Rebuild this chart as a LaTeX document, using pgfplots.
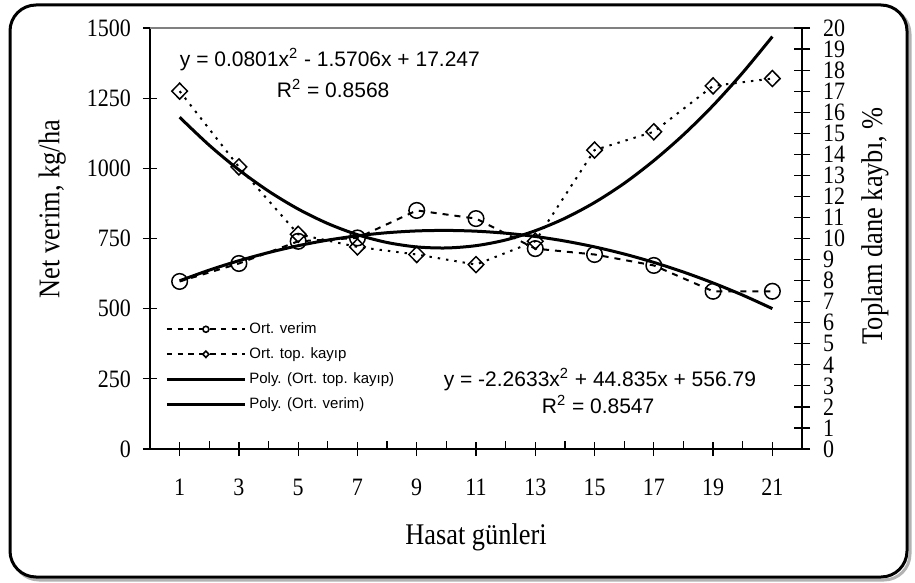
\documentclass[border=0pt]{standalone}
\usepackage{fontspec}
\setmainfont{Liberation Serif}[FakeStretch=0.88]
\newfontfamily\arial{Liberation Sans}
\usepackage{pgfplots}
\usepackage{pgfplotstable}
\pgfplotsset{compat=1.18}

% measured series (x = harvest day)
\pgfplotstableread{
day verim kayip
1  597 17.00
3  661 13.40
5  740 10.20
7  752  9.60
9  850  9.24
11 821  8.76
13 714  9.87
15 693 14.20
17 654 15.07
19 562 17.25
21 562 17.60
}\ortdata

% trendline curves as drawn in the chart
\pgfplotstableread{
day pverim pkayip
1  599.4 15.76
2  637.4 14.43
3  670.9 13.26
4  699.9 12.25
5  724.4 11.40
6  744.3 10.71
7  759.7 10.18
8  770.6  9.81
9  777.0  9.60
10 778.8  9.55
11 776.1  9.66
12 768.9  9.93
13 757.2 10.37
14 740.9 10.96
15 720.1 11.71
16 694.8 12.62
17 664.9 13.70
18 630.5 14.93
19 591.6 16.32
20 548.2 17.88
21 500.2 19.59
}\polydata

\pgfplotsset{
  base/.style={
    at={(75pt,-224.5pt)}, anchor=south west,
    scale only axis, width=326pt, height=210.5pt,
    xmin=0, xmax=22,
    axis line style={-, line width=0.6pt},
    tick style={black, line width=0.6pt},
    tick align=center,
    ticklabel style={font=\fontsize{12.5}{12.5}\selectfont},
    /pgf/number format/assume math mode=true,
    /pgf/number format/set thousands separator={},
    label style={font=\fontsize{15}{16}\selectfont},
    clip=false,
  },
}

\begin{document}
\begin{tikzpicture}
\useasboundingbox (0,0) rectangle (457.5pt,-291.5pt);
\draw[line width=1.5pt, gray!60, rounded corners=13pt] (6.5pt,-4pt) rectangle (455pt,-290pt);
\draw[line width=1.5pt, rounded corners=13pt, fill=white] (5pt,-2.5pt) rectangle (453.5pt,-288.5pt);

\begin{axis}[base,
  ymin=0, ymax=1500,
  axis x line*=bottom, axis y line*=left,
  xtick={1,3,...,21}, ytick={0,250,...,1500},
  extra x ticks={0,2,...,22}, extra x tick labels={},
  extra x tick style={tick align=inside, major tick length=4pt},
  major tick length=7pt,
  xticklabel style={yshift=-8pt},
  yticklabel style={xshift=-2.5pt},
  xlabel={Hasat günleri}, ylabel={Net verim, kg/ha},
  xlabel style={at={(axis description cs:0.5,-0.21)}, anchor=center},
  ylabel style={at={(axis description cs:-0.15,0.57)}, anchor=center},
]
\draw[gray, line width=0.6pt] (rel axis cs:0,1) -- (rel axis cs:1,1);
\addplot[black, line width=1pt, dash pattern=on 3pt off 3pt, mark=o, mark size=3.9pt,
  mark options={solid, line width=0.75pt}] table[x=day, y=verim] {\ortdata};
\addplot[black, line width=1.5pt, smooth, no marks] table[x=day, y=pverim] {\polydata};
\node[font=\arial\fontsize{10.5}{12}\selectfont] at (axis cs:6.07,1386) {y = 0.0801x\textsuperscript{2} - 1.5706x + 17.247};
\node[font=\arial\fontsize{10.5}{12}\selectfont] at (axis cs:6.18,1286) {R\textsuperscript{2} = 0.8568};
\node[font=\arial\fontsize{10.5}{12}\selectfont] at (axis cs:15.18,246) {y = -2.2633x\textsuperscript{2} + 44.835x + 556.79};
\node[font=\arial\fontsize{10.5}{12}\selectfont] at (axis cs:15.12,157) {R\textsuperscript{2} = 0.8547};
\end{axis}

\begin{axis}[base,
  ymin=0, ymax=20,
  axis x line=none, axis y line*=right,
  ytick={0,1,...,20},
  major tick length=8pt,
  yticklabel style={anchor=west, xshift=3pt, inner ysep=0pt},
  ylabel={Toplam dane kaybı, \%},
  ylabel style={at={(axis description cs:1.112,0.53)}, anchor=center},
  legend style={at={(axis description cs:0.023,0.315)}, anchor=north west,
    draw=none, fill=none, inner sep=0pt, row sep=0pt,
    font=\arial\fontsize{7.5}{8}\selectfont,
    nodes={inner ysep=0pt, inner xsep=1.5pt, minimum height=12.5pt}},
  legend cell align=left,
]
\addlegendimage{legend image code/.code={
  \draw[black, line width=1.2pt, dash pattern=on 2.8pt off 2.6pt] (0pt,0pt) -- (39pt,0pt);
  \draw[black, line width=0.8pt, fill=white] (19.5pt,0pt) circle (1.5pt);}}
\addlegendentry{Ort. verim}
\addlegendimage{legend image code/.code={
  \draw[black, line width=1.2pt, dash pattern=on 2.8pt off 2.6pt] (0pt,0pt) -- (39pt,0pt);
  \draw[black, line width=0.8pt, fill=white] (18pt,0pt) -- (19.5pt,1.6pt) -- (21pt,0pt) -- (19.5pt,-1.6pt) -- cycle;}}
\addlegendentry{Ort. top. kayıp}
\addlegendimage{legend image code/.code={
  \draw[black, line width=1.5pt] (0pt,0pt) -- (39pt,0pt);}}
\addlegendentry{Poly. (Ort. top. kayıp)}
\addlegendimage{legend image code/.code={
  \draw[black, line width=1.5pt] (0pt,0pt) -- (39pt,0pt);}}
\addlegendentry{Poly. (Ort. verim)}

\addplot[forget plot, black, line width=1pt, dash pattern=on 1.2pt off 3pt, mark=diamond, mark size=4pt,
  mark options={solid, line width=0.75pt, xscale=1.3}] table[x=day, y=kayip] {\ortdata};
\addplot[forget plot, black, line width=1.5pt, smooth, no marks] table[x=day, y=pkayip] {\polydata};
\end{axis}
\end{tikzpicture}
\end{document}
